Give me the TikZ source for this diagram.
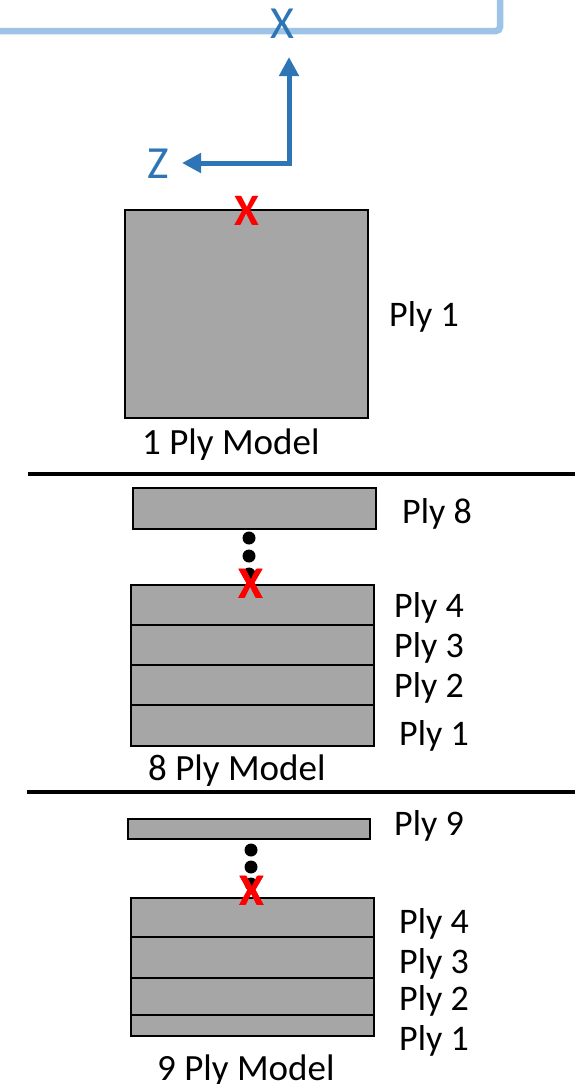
\documentclass[tikz,border=0pt]{standalone}
\usepackage{fontspec}
\setmainfont{Carlito}
\usetikzlibrary{arrows.meta}
\definecolor{plygray}{HTML}{A6A6A6}
\definecolor{axisblue}{HTML}{2E75B6}
\definecolor{frameblue}{HTML}{9DC3E6}
\tikzset{
 ply/.style={draw=black, line width=2.5pt, fill=plygray},
 plylabel/.style={anchor=base west, inner sep=0pt, font=\fontsize{36}{40}\selectfont},
 modellabel/.style={anchor=base west, inner sep=0pt, font=\fontsize{37}{40}\selectfont},
 axislabel/.style={anchor=base, inner sep=0pt, text=axisblue, font=\fontsize{46}{50}\selectfont},
 redx/.style={anchor=base, inner sep=0pt, text=red, font=\fontsize{45}{48}\selectfont\bfseries},
 sep/.style={line width=3.5pt},
}
\newcommand{\plydots}[3]{% x, y prve pike, razmik
 \fill (#1,#2) circle [radius=6.5];
 \fill (#1,#2+#3) circle [radius=6.5];
 \fill (#1,#2+2*#3) circle [radius=6.5];
}
\newcommand{\plysplit}[3]{% x levo, x desno, y crte
 \draw [line width=2.5pt](#1,#3)--(#2,#3);
}
\begin{document}
\begin{tikzpicture}[x=1pt,y=-1pt]
			\useasboundingbox (0,0) rectangle (575,1084);

			% okvir in osi
			\draw [frameblue, line width=6.5pt, rounded corners=4pt](-10,31)--(500,31)--(500,-10);
			\node[axislabel] (xlab) at (282,38){X};
			\coordinate (org) at (289,163);
			\coordinate (xtip) at (289,57);
			\coordinate (ztip) at (182,163);
			\draw [axisblue, line width=5pt, {Triangle[length=19pt,width=19pt]}-{Triangle[length=19pt,width=19pt]}](ztip)--(org)--(xtip);
			\node[axislabel] (zlab) at (158,178){Z};

			% 1 ply
			\draw [ply](125,210) rectangle (368,418);
			\node[redx] (xone) at (247,225){X};
			\node[plylabel] (onePly) at (389,326){Ply 1};
			\node[modellabel] (oneModel) at (142,454){1 Ply Model};

			\draw [sep](28,474)--(580,474);

			% 8 ply
			\draw [ply](133,488) rectangle (376,529);
			\plydots{249}{538}{18}
			\draw [ply](131,585) rectangle (374,746);
			\foreach \yy in {625,665,705} \plysplit{131}{374}{\yy}
			\node[redx] (xeight) at (251,598){X};
			\node[plylabel] (eightPlyEight) at (402,523){Ply 8};
			\node[plylabel] (eightPlyFour) at (394,617){Ply 4};
			\node[plylabel] (eightPlyThree) at (394,657){Ply 3};
			\node[plylabel] (eightPlyTwo) at (394,697){Ply 2};
			\node[plylabel] (eightPlyOne) at (399,745){Ply 1};
			\node[modellabel] (eightModel) at (148,780){8 Ply Model};

			\draw [sep](27,792)--(580,792);

			% 9 ply
			\draw [ply](128,819) rectangle (370,839);
			\plydots{251}{850}{17}
			\draw [ply](131,898) rectangle (374,1036);
			\foreach \yy in {937,978,1015} \plysplit{131}{374}{\yy}
			\node[redx] (xnine) at (252,905){X};
			\node[plylabel] (ninePlyNine) at (394,835){Ply 9};
			\node[plylabel] (ninePlyFour) at (399,933){Ply 4};
			\node[plylabel] (ninePlyThree) at (399,973){Ply 3};
			\node[plylabel] (ninePlyTwo) at (399,1010){Ply 2};
			\node[plylabel] (ninePlyOne) at (399,1050){Ply 1};
			\node[modellabel] (nineModel) at (157,1080){9 Ply Model};
\end{tikzpicture}
\end{document}
